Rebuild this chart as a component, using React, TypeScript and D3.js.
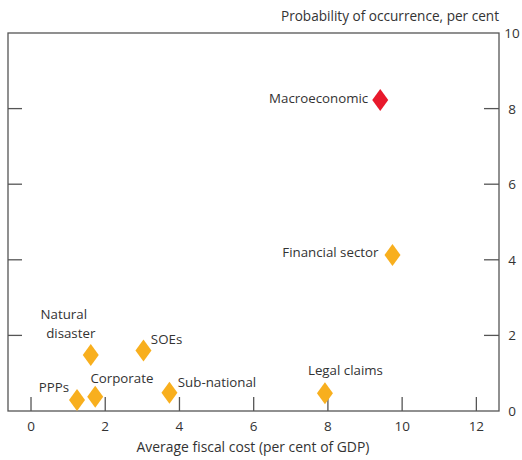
import React from "react";
import * as d3 from "d3";

const labels = ["Macroeconomic", "Financial sector", "Natural disaster", "SOEs", "PPPs", "Corporate", "Sub-national", "Legal claims"];
const costs = [9.41, 9.74, 1.61, 3.03, 1.24, 1.73, 3.73, 7.92];
const probs = [8.23, 4.13, 1.48, 1.6, 0.29, 0.38, 0.48, 0.47];
const xTicks = [0, 2, 4, 6, 8, 10, 12];
const yTicks = [0, 2, 4, 6, 8, 10];

// label placement lines: [text, dx, dy, anchor]
const labelPos: Record<string, [string, number, number, string][]> = {
  "Macroeconomic": [["Macroeconomic", -12, 3.5, "end"]],
  "Financial sector": [["Financial sector", -14, 2, "end"]],
  "Natural disaster": [["Natural", -27, -36, "middle"], ["disaster", -20, -17.3, "middle"]],
  "SOEs": [["SOEs", 7.4, -6.7, "start"]],
  "PPPs": [["PPPs", -23, -7.7, "middle"]],
  "Corporate": [["Corporate", 26.7, -13.7, "middle"]],
  "Sub-national": [["Sub-national", 8.4, -6, "start"]],
  "Legal claims": [["Legal claims", 20.5, -18.3, "middle"]],
};

export default function App() {
  const W = 522, H = 460;
  const left = 8, right = 499, top = 33, bottom = 411;
  const x = d3.scaleLinear().domain([-0.62, 12.61]).range([left, right]);
  const y = d3.scaleLinear().domain([0, 10]).range([bottom, top]);
  const axisColor = "#555";
  const textColor = "#333";
  const font = "'Open Sans', sans-serif";
  const diamond = (cx: number, cy: number) => `M${cx},${cy - 11}L${cx + 8},${cy}L${cx},${cy + 11}L${cx - 8},${cy}Z`;

  return (
    <svg width={W} height={H} style={{ position: "absolute", left: 0, top: 0 }} fontFamily={font}>
      <rect x={left} y={top} width={right - left} height={bottom - top} fill="none" stroke={axisColor} strokeWidth={1.3} />
      {yTicks.filter(t => t > 0 && t < 10).map(t => (
        <g key={"yt" + t}>
          <line x1={left} x2={left + 14} y1={y(t)} y2={y(t)} stroke={axisColor} strokeWidth={1.3} />
          <line x1={right - 15} x2={right} y1={y(t)} y2={y(t)} stroke={axisColor} strokeWidth={1.3} />
        </g>
      ))}
      {yTicks.map(t => (
        <text key={"yl" + t} x={right + 13} y={y(t) + 5} textAnchor="middle" fontSize={13.5} fill={textColor}>{t}</text>
      ))}
      {xTicks.map(t => (
        <g key={"xt" + t}>
          <line x1={x(t)} x2={x(t)} y1={bottom} y2={bottom - 14} stroke={axisColor} strokeWidth={1.3} />
          <text x={x(t)} y={bottom + 20} textAnchor="middle" fontSize={13.5} fill={textColor}>{t}</text>
        </g>
      ))}
      <text x={253} y={452} textAnchor="middle" fontSize={13.9} fill={textColor}>Average fiscal cost (per cent of GDP)</text>
      <text x={right} y={21} textAnchor="end" fontSize={13.6} fill={textColor}>Probability of occurrence, per cent</text>
      {labels.map((l, i) => {
        const cx = x(costs[i]), cy = y(probs[i]);
        const color = i === 0 ? "#E8192C" : "#F8AF1E";
        return (
          <g key={l}>
            <path d={diamond(cx, cy)} fill={color} />
            {labelPos[l].map(([t, dx, dy, anchor]) => (
              <text key={t} x={cx + dx} y={cy + dy} textAnchor={anchor} fontSize={13.3} fill={textColor}>{t}</text>
            ))}
          </g>
        );
      })}
    </svg>
  );
}
